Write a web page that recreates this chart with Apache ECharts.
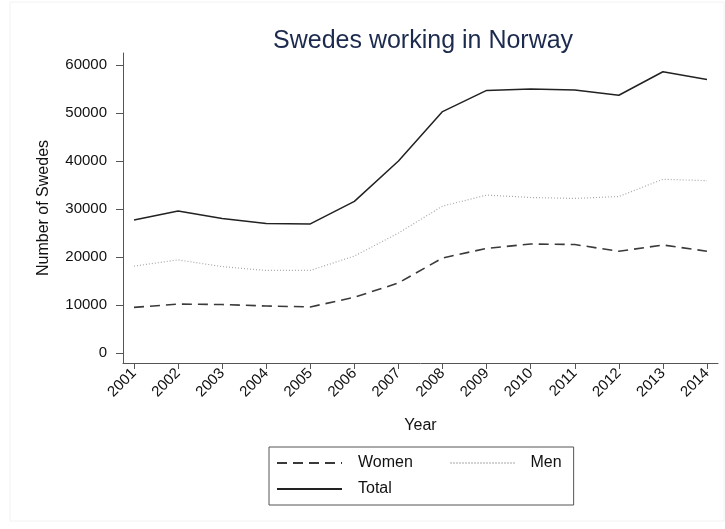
<!DOCTYPE html>
<html>
<head>
<meta charset="utf-8">
<script src="https://cdn.jsdelivr.net/npm/echarts@6/dist/echarts.min.js"></script>
<style>html,body{margin:0;padding:0;background:#fff;}#c{width:725px;height:529px;}</style>
</head>
<body>
<div id="c"></div>
<script>
var years = [2001,2002,2003,2004,2005,2006,2007,2008,2009,2010,2011,2012,2013,2014];
var women = [9500,10200,10100,9800,9600,11600,14600,19800,21800,22700,22600,21200,22500,21200];
var men   = [18100,19400,18000,17200,17200,20200,25000,30600,32900,32400,32200,32600,36200,35900];
var total = [27700,29600,28000,27000,26900,31600,40000,50300,54700,55000,54800,53700,58600,57000];
var yTicks = [0,10000,20000,30000,40000,50000,60000];

function pairs(vals){ return years.map(function(y,i){ return [y, vals[i]]; }); }

var chart = echarts.init(document.getElementById('c'), null, {renderer:'canvas'});
var font = 'Arial, "Liberation Sans", sans-serif';
chart.setOption({
  backgroundColor: '#fff',
  animation: false,
  graphic: [{type:'rect', shape:{x:10,y:2,width:714,height:519}, style:{fill:'none', stroke:'#f2f2f2', lineWidth:1}, silent:true, z:-10}],
  title: {
    text: 'Swedes working in Norway',
    left: 268, top: 24,
    textStyle: {fontFamily: font, fontWeight: 'normal', fontSize: 25, color: '#1c2a4e'}
  },
  grid: {left: 123, right: 7, top: 53, bottom: 166, containLabel: false},
  xAxis: {
    type: 'value', min: 2000.75, max: 2014.25,
    name: 'Year', nameLocation: 'middle', nameGap: 55,
    nameTextStyle: {fontFamily: font, fontSize: 16, color: '#111'},
    axisLine: {show: true, onZero: false, lineStyle: {color: '#555', width: 1}},
    axisTick: {show: true, length: 6, customValues: years, lineStyle: {color: '#555'}},
    axisLabel: {customValues: years, rotate: 45, margin: 8, fontFamily: font, fontSize: 15, color: '#111',
      formatter: function(v){ return String(v); }},
    splitLine: {show: false}
  },
  yAxis: {
    type: 'value', min: -2080, max: 62500,
    name: 'Number of Swedes', nameLocation: 'middle', nameGap: 71, nameRotate: 90,
    nameTextStyle: {fontFamily: font, fontSize: 16, color: '#111'},
    axisLine: {show: true, onZero: false, lineStyle: {color: '#555', width: 1}},
    axisTick: {show: true, length: 7, customValues: yTicks, lineStyle: {color: '#555'}},
    axisLabel: {customValues: yTicks, margin: 16, fontFamily: font, fontSize: 15, color: '#111',
      formatter: function(v){ return String(v); }},
    splitLine: {show: false}
  },
  legend: {
    left: 269, top: 447, orient: 'horizontal', width: 310,
    padding: [8, 12, 8, 7], itemGap: 10, itemWidth: 65, itemHeight: 14,
    borderColor: '#555', borderWidth: 1, backgroundColor: '#fff',
    itemStyle: {opacity: 0},
    textStyle: {fontFamily: font, fontSize: 16, color: '#111'},
    formatter: function(name){ return name === 'Women' ? name + '\u00a0\u00a0\u00a0\u00a0\u00a0\u00a0' : name; },
    data: [
      {name: 'Women', textStyle: {padding: [0,0,0,11]}},
      {name: 'Men', textStyle: {padding: [0,0,0,10]}},
      {name: 'Total', textStyle: {padding: [0,0,0,11]}}
    ]
  },
  series: [
    {name: 'Women', type: 'line', data: pairs(women), symbol: 'none',
     lineStyle: {color: '#3a3a3a', width: 1.6, type: [10, 6]}, itemStyle: {color: '#3a3a3a'}},
    {name: 'Men', type: 'line', data: pairs(men), symbol: 'none',
     lineStyle: {color: '#a8a8a8', width: 1.2, type: [1, 2]}, itemStyle: {color: '#a8a8a8'}},
    {name: 'Total', type: 'line', data: pairs(total), symbol: 'none',
     lineStyle: {color: '#222', width: 1.5, type: 'solid'}, itemStyle: {color: '#222'}}
  ]
});
</script>
</body>
</html>
